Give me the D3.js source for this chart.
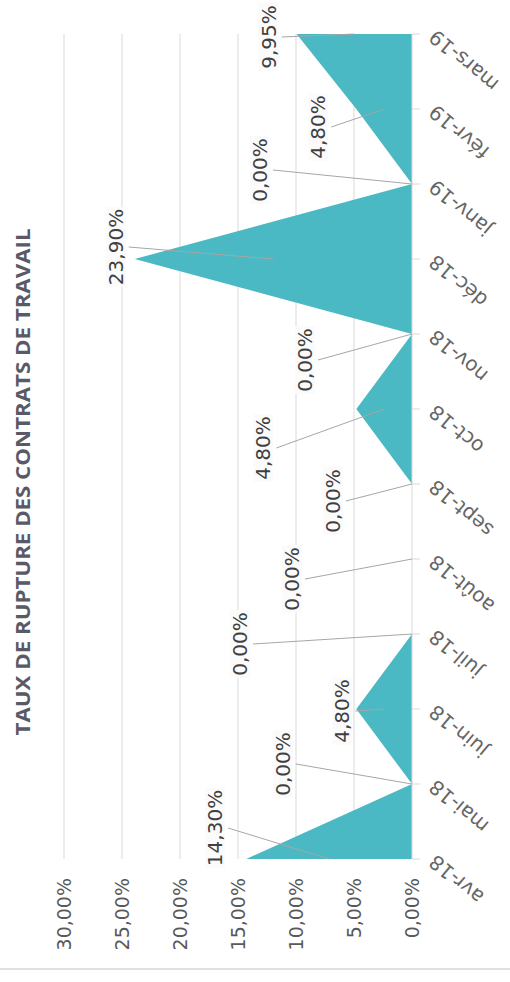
<!DOCTYPE html>
<html>
<head>
<meta charset="utf-8">
<script src="https://cdn.jsdelivr.net/npm/d3@7"></script>
<style>
  html, body { margin: 0; padding: 0; background: #fff; }
  svg { display: block; font-family: "DejaVu Sans", sans-serif; }
</style>
</head>
<body>
<div id="chart-container"></div>
<script>
// data
const title = "TAUX DE RUPTURE DES CONTRATS DE TRAVAIL";
const months = ["avr-18", "mai-18", "juin-18", "juil-18", "août-18", "sept-18",
  "oct-18", "nov-18", "déc-18", "janv-19", "févr-19", "mars-19"];
const rates = [14.3, 0, 4.8, 0, 0, 0, 4.8, 0, 23.9, 0, 4.8, 9.95];
const valueTicks = [0, 5, 10, 15, 20, 25, 30];

// label placement (pixels from the point), like the excel callouts
const labelOffsets = [[-31, -31], [-129, -20], [-14, 2], [-172, 10], [-120, 20],
  [-79, 17], [-93, 39], [-107, 26], [-19, -12], [-152, -14], [-38, 18], [-28, 3]];

const width = 510;
const height = 982;
const fill = "#4ab9c3";
const grid = "#d9d9d9";

const fr = d3.formatLocale({ decimal: ",", thousands: " ", grouping: [3], currency: ["", " €"] });
const pct = (v) => fr.format(".2f")(v) + "%";

const data = months.map((m, i) => ({ month: m, value: rates[i], off: labelOffsets[i] }));

// chart is turned a quarter: values run right to left, months bottom to top
const x = d3.scaleLinear().domain([0, 30]).range([412, 64]);
const y = d3.scalePoint().domain(months).range([859, 34]);

const svg = d3
  .select("#chart-container")
  .append("svg")
  .attr("width", width)
  .attr("height", height)
  .attr("viewBox", [0, 0, width, height]);

// grid lines
svg
  .append("g")
  .selectAll("line")
  .data(valueTicks.filter((d) => d > 0))
  .join("line")
  .attr("x1", (d) => x(d))
  .attr("x2", (d) => x(d))
  .attr("y1", y.range()[1])
  .attr("y2", y.range()[0])
  .attr("stroke", grid);

// value labels
svg
  .append("g")
  .attr("fill", "#595959")
  .attr("font-size", 19)
  .attr("text-anchor", "end")
  .selectAll("text")
  .data(valueTicks)
  .join("text")
  .attr("transform", (d) => `translate(${x(d)},878) rotate(-90)`)
  .attr("dy", "0.35em")
  .text(pct);

// area
const area = d3
  .area()
  .y((d) => y(d.month))
  .x0(x(0))
  .x1((d) => x(d.value));

svg.append("path").datum(data).attr("fill", fill).attr("d", area);

// month axis
svg
  .append("line")
  .attr("x1", x(0))
  .attr("x2", x(0))
  .attr("y1", y.range()[1])
  .attr("y2", y.range()[0])
  .attr("stroke", grid);

const monthAxis = svg.append("g").selectAll("g").data(months).join("g");
monthAxis
  .append("line")
  .attr("x1", x(0))
  .attr("x2", x(0) + 8)
  .attr("y1", (d) => y(d))
  .attr("y2", (d) => y(d))
  .attr("stroke", grid);
monthAxis
  .append("text")
  .attr("transform", (d) => `translate(432,${y(d)}) rotate(-140)`)
  .attr("text-anchor", "end")
  .attr("dy", "0.35em")
  .attr("font-size", 20)
  .attr("fill", "#666")
  .text((d) => d);

// data labels with leader lines
const labels = svg.append("g").selectAll("g").data(data).join("g");
const lx = (d) => x(d.value) + d.off[0];
const ly = (d) => y(d.month) + d.off[1];

labels
  .append("line")
  .attr("x1", (d) => lx(d) + 13)
  .attr("y1", ly)
  .attr("x2", (d) => x(d.value / 2))
  .attr("y2", (d) => y(d.month))
  .attr("stroke", "#a6a6a6");

labels
  .append("rect")
  .attr("fill", "#fbfbfb")
  .attr("x", (d) => lx(d) - 10)
  .attr("width", 20)
  .attr("y", (d) => ly(d) - (d.value >= 10 ? 40 : 34))
  .attr("height", (d) => (d.value >= 10 ? 80 : 68));

labels
  .append("text")
  .attr("transform", (d) => `translate(${lx(d)},${ly(d)}) rotate(-90)`)
  .attr("text-anchor", "middle")
  .attr("dy", "0.35em")
  .attr("font-size", 20)
  .attr("fill", "#404040")
  .text((d) => pct(d.value));

// title
svg
  .append("text")
  .attr("transform", "translate(23,482) rotate(-90)")
  .attr("text-anchor", "middle")
  .attr("dy", "0.35em")
  .attr("font-family", "'Open Sans', sans-serif")
  .attr("font-weight", "bold")
  .attr("font-size", 19)
  .attr("fill", "#5a5a66")
  .attr("textLength", 507)
  .attr("lengthAdjust", "spacingAndGlyphs")
  .text(title);

// bottom rule
svg
  .append("line")
  .attr("x1", 0)
  .attr("x2", width)
  .attr("y1", 969)
  .attr("y2", 969)
  .attr("stroke", "#e0e0e0")
  .attr("stroke-width", 2);
</script>
</body>
</html>
